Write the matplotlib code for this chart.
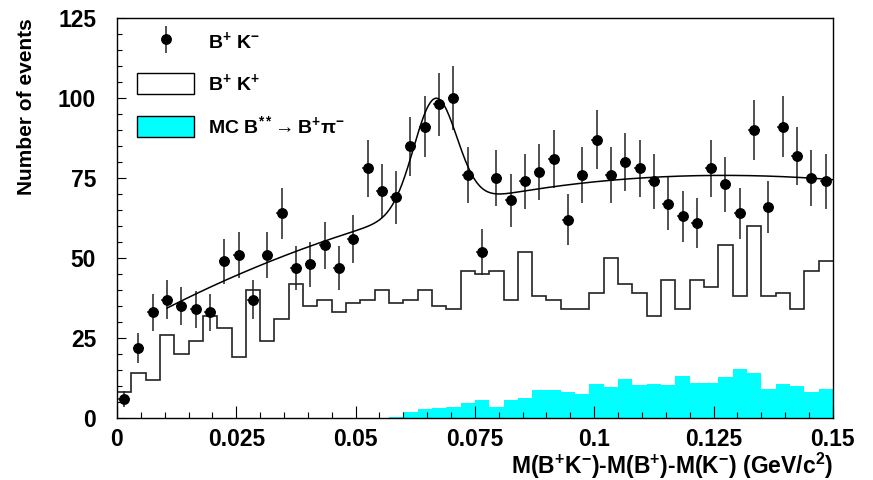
import numpy as np
import matplotlib
matplotlib.use("Agg")
import matplotlib.pyplot as plt
from matplotlib.patches import Patch
from matplotlib.container import ErrorbarContainer
from matplotlib.legend_handler import HandlerErrorbar
from matplotlib.ticker import FixedLocator, MultipleLocator

plt.rcParams["font.family"] = ["Liberation Sans", "DejaVu Sans"]
plt.rcParams["font.weight"] = "bold"
plt.rcParams["mathtext.fontset"] = "custom"
plt.rcParams["mathtext.rm"] = "Liberation Sans:bold"
plt.rcParams["mathtext.it"] = "Liberation Sans:bold:italic"
plt.rcParams["mathtext.bf"] = "Liberation Sans:bold"
plt.rcParams["mathtext.default"] = "rm"

# ---- binning: 50 bins of 3 MeV between 0 and 0.15 GeV/c^2 ----
x_min, x_max, n_bins = 0.0, 0.15, 50
bin_edges = np.linspace(x_min, x_max, n_bins + 1)
bin_centers = 0.5 * (bin_edges[:-1] + bin_edges[1:])
bin_width = bin_edges[1] - bin_edges[0]

# B+ K- candidates (data points)
bkm_counts = [6, 22, 33, 37, 35, 34, 33, 49, 51, 37,
              51, 64, 47, 48, 54, 47, 56, 78, 71, 69,
              85, 91, 98, 100, 76, 52, 75, 68, 74, 77,
              81, 62, 76, 87, 76, 80, 78, 74, 67, 63,
              61, 78, 73, 64, 90, 66, 91, 82, 75, 74]

# B+ K+ wrong-sign combinations (open histogram)
bkp_counts = [8, 14, 12, 26, 20, 24, 32, 28, 19, 40,
              24, 31, 42, 35, 37, 33, 36, 37, 40, 36,
              37, 40, 35, 34, 46, 45, 46, 37, 52, 38,
              37, 34, 34, 39, 50, 42, 39, 32, 43, 34,
              43, 41, 54, 38, 60, 38, 39, 34, 46, 49]

# Simulated B** -> B+ pi- reflection (filled histogram)
mc_counts = [0, 0, 0, 0, 0, 0, 0, 0, 0, 0,
             0, 0, 0, 0, 0, 0, 0, 0, 0.1, 0.3,
             2.0, 2.8, 3.1, 3.4, 4.8, 5.6, 3.5, 5.6, 6.3, 8.7,
             8.7, 8.2, 7.4, 10.5, 9.8, 12.1, 10.4, 10.6, 10.2, 13.2,
             11.0, 11.1, 12.7, 15.3, 14.2, 9.0, 10.6, 10.0, 8.0, 9.0]

# Fit: cubic background (in units of 10 MeV) + Gaussian signal
fit_lo, fit_hi = 0.0105, 0.15
bkg_coef = [26.0, 8.389, -0.3951, 0.003423]
peak_mean = 0.0667
peak_sigma = 0.0045
peak_amp = 34.5

x_ticks = [0.0, 0.025, 0.05, 0.075, 0.1, 0.125, 0.15]
x_tick_labels = ["0", "0.025", "0.05", "0.075", "0.1", "0.125", "0.15"]
y_ticks = [0, 25, 50, 75, 100, 125]

legend_labels = [r"B$^{+}$ K$^{-}$",
                 r"B$^{+}$ K$^{+}$",
                 r"MC B$^{**}\!\rightarrow$B$^{+}\pi^{-}$"]


def fit_model(x):
    u = x / 0.01
    bkg = np.polyval(bkg_coef[::-1], u)
    sig = peak_amp * np.exp(-0.5 * ((x - peak_mean) / peak_sigma) ** 2)
    return bkg + sig


fig = plt.figure(figsize=(8.73, 4.80), dpi=100)
ax = fig.add_axes([0.134, 0.129, 0.820, 0.8335])

ax.stairs(mc_counts, bin_edges, fill=True, color="#00ffff", lw=0, zorder=1)
ax.stairs(bkp_counts, bin_edges, baseline=None, color="#222222", lw=1.2, zorder=2)

yerr = np.sqrt(np.asarray(bkm_counts, dtype=float))
eb = ax.errorbar(bin_centers, bkm_counts, yerr=yerr, xerr=0.4 * bin_width,
                 fmt="o", color="black", ecolor="#222222", elinewidth=1.1,
                 markersize=6.8, capsize=0, zorder=3)

xf = np.linspace(fit_lo, fit_hi, 800)
ax.plot(xf, fit_model(xf), color="black", lw=1.1, zorder=4)

ax.set_xlim(x_min, x_max)
ax.set_ylim(0, 125)
ax.xaxis.set_major_locator(FixedLocator(x_ticks))
ax.set_xticklabels(x_tick_labels)
ax.xaxis.set_minor_locator(MultipleLocator(0.005))
ax.yaxis.set_major_locator(FixedLocator(y_ticks))
ax.yaxis.set_minor_locator(MultipleLocator(5))

ax.tick_params(axis="both", which="both", direction="in", top=False, right=False,
               width=0.8, colors="black")
ax.tick_params(axis="x", which="major", length=8.6, pad=7, labelsize=16.5)
ax.tick_params(axis="x", which="minor", length=4.3)
ax.tick_params(axis="y", which="major", length=6.5, pad=15, labelsize=16.5)
ax.tick_params(axis="y", which="minor", length=3.6)
for lab in ax.get_xticklabels() + ax.get_yticklabels():
    lab.set_fontweight("bold")
for sp in ax.spines.values():
    sp.set_linewidth(1.0)
    sp.set_color("black")

ax.set_xlabel(r"M(B$^{+}$K$^{-}$)-M(B$^{+}$)-M(K$^{-}$) (GeV/c$^{2}$)",
              fontsize=16.5, fontweight="bold", loc="right", labelpad=0)
ax.set_ylabel("Number of events", fontsize=15, fontweight="bold",
              loc="top", labelpad=16)

handles = [eb,
           Patch(facecolor="white", edgecolor="black", lw=1.0),
           Patch(facecolor="#00ffff", edgecolor="black", lw=1.0)]
ax.legend(handles=handles, labels=legend_labels, loc="upper left",
          bbox_to_anchor=(0.028, 0.97), frameon=False, borderpad=0,
          borderaxespad=0, handlelength=2.93, handleheight=1.29,
          handletextpad=0.72, labelspacing=1.05, numpoints=1,
          prop={"weight": "bold", "size": 14},
          handler_map={ErrorbarContainer: HandlerErrorbar(xerr_size=0, yerr_size=0.7)})

fig.savefig("out.png", dpi=100)
